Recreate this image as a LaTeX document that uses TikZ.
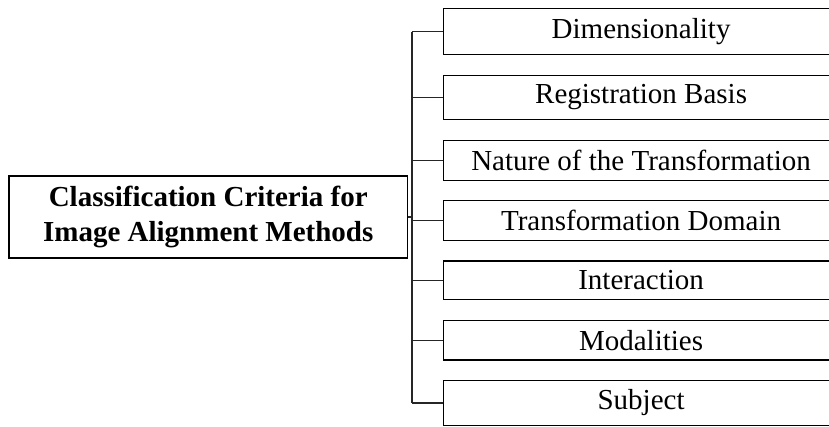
\documentclass[tikz,border=0pt]{standalone}
\usepackage{fontspec}
\setmainfont{Liberation Serif}
\begin{document}
\begin{tikzpicture}[x=1pt,y=-1pt,
  every node/.style={font=\fontsize{29pt}{35.7pt}\selectfont},
  rootbox/.style={draw=black, line width=1.2pt, minimum width=398.5pt, minimum height=82pt, align=center, inner sep=0pt, font=\fontsize{29pt}{35.7pt}\selectfont\bfseries},
  leafbox/.style={draw=black, line width=1.2pt, minimum width=395pt, inner xsep=0pt, inner ysep=9.5pt, anchor=west},
  link/.style={draw=black!85, line width=1.2pt}]
\clip (0,0) rectangle (829,426);
\node[rootbox] (root) at (208.25,217) {Classification Criteria for\\Image Alignment Methods};
\node[leafbox] (c1) at (443,31.5) {Dimensionality};
\node[leafbox] (c2) at (443,97.5) {Registration Basis};
\node[leafbox] (c3) at (443,160.5) {Nature of the Transformation};
\node[leafbox] (c4) at (443,220.3) {Transformation Domain};
\node[leafbox] (c5) at (443,280.3) {Interaction};
\node[leafbox] (c6) at (443,340.3) {Modalities};
\node[leafbox] (c7) at (443,403) {Subject};
\coordinate (trunk) at (412,217);
\draw[link] (root.east |- trunk) -- (trunk);
\draw[link] (412,31.5) -- (412,403);
\foreach \i in {1,...,7} {
  \draw[link] (c\i.west -| trunk) -- (c\i.west);
}
\end{tikzpicture}
\end{document}
